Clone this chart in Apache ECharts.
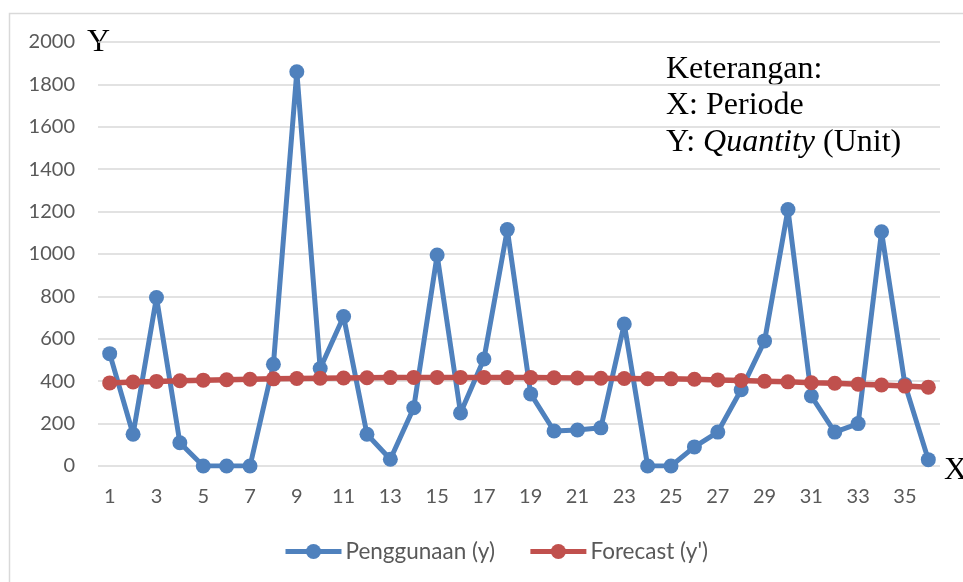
<!DOCTYPE html>
<html>
<head>
<meta charset="utf-8">
<style>
  html, body { margin: 0; padding: 0; background: #ffffff; }
  #chart { width: 963px; height: 582px; }
</style>
<script src="https://cdn.jsdelivr.net/npm/echarts@6/dist/echarts.min.js"></script>
</head>
<body>
<div id="chart"></div>
<script>
// Periods 1..36
const periods = Array.from({ length: 36 }, (_, i) => String(i + 1));

// Actual usage per period (Unit)
const penggunaan = [
  530, 150, 795, 110, 0, 0, 0, 480, 1860, 460,
  705, 150, 32, 275, 995, 250, 505, 1115, 340, 165,
  170, 180, 670, 0, 0, 90, 160, 360, 590, 1210,
  330, 160, 200, 1105, 385, 30
];

// Forecast values per period (Unit)
const forecast = [
  392, 396, 399, 402, 405, 407, 409, 411, 413, 414,
  415, 416, 417, 418, 418, 418, 418, 417, 417, 416,
  415, 414, 413, 412, 411, 409, 406, 403, 400, 397,
  393, 390, 386, 382, 377, 372
];

const seriesNames = ['Penggunaan (y)', "Forecast (y')"];
const blue = '#4F81BD';
const red = '#C0504D';
const labelFont = 'Lato, "Open Sans", sans-serif';
const serifFont = '"Liberation Serif", "Times New Roman", serif';

const chart = echarts.init(document.getElementById('chart'), null, { renderer: 'canvas' });

chart.setOption({
  animation: false,
  backgroundColor: '#ffffff',
  grid: { left: 98, right: 23, top: 42, bottom: 116 },
  legend: {
    data: seriesNames,
    bottom: 14,
    left: 278,
    itemWidth: 56,
    itemHeight: 19,
    itemGap: 33,
    lineStyle: { width: 5 },
    textStyle: { fontFamily: labelFont, fontSize: 22.5, color: '#595959', padding: [0, 0, 0, -1] }
  },
  xAxis: {
    type: 'category',
    data: periods,
    boundaryGap: true,
    axisLine: { show: false },
    axisTick: { show: false },
    axisLabel: {
      interval: 1,
      margin: 21,
      fontFamily: labelFont,
      fontSize: 20,
      color: '#595959'
    },
    splitLine: { show: false }
  },
  yAxis: {
    type: 'value',
    min: 0,
    max: 2000,
    interval: 200,
    axisLine: { show: false },
    axisTick: { show: false },
    axisLabel: {
      margin: 23,
      fontFamily: labelFont,
      fontSize: 20,
      color: '#595959',
      formatter: (v) => String(v)
    },
    splitLine: { lineStyle: { color: '#d9d9d9', width: 1.5 } }
  },
  series: [
    {
      name: seriesNames[0],
      type: 'line',
      data: penggunaan,
      symbol: 'circle',
      symbolSize: 15,
      itemStyle: { color: blue },
      lineStyle: { color: blue, width: 5 },
      emphasis: { disabled: true },
      z: 2
    },
    {
      name: seriesNames[1],
      type: 'line',
      data: forecast,
      symbol: 'circle',
      symbolSize: 15,
      itemStyle: { color: red },
      lineStyle: { color: red, width: 5.5 },
      emphasis: { disabled: true },
      z: 3
    }
  ],
  graphic: [
    {
      type: 'rect',
      silent: true,
      z: -10,
      shape: { x: 9.5, y: 13.5, width: 1000, height: 620 },
      style: { fill: 'none', stroke: '#d9d9d9', lineWidth: 1.5 }
    },
    {
      type: 'text',
      left: 87,
      top: 27,
      style: { text: 'Y', font: '32px ' + serifFont, fill: '#000000' }
    },
    {
      type: 'text',
      left: 944,
      top: 455,
      style: { text: 'X', font: '32px ' + serifFont, fill: '#000000' }
    },
    {
      type: 'text',
      left: 666,
      top: 51,
      style: {
        text: 'Keterangan:\nX: Periode\n{n|Y: }{i|Quantity}{n| (Unit)}',
        font: '32px ' + serifFont,
        fill: '#000000',
        lineHeight: 36.5,
        rich: {
          n: { font: '32px ' + serifFont, fill: '#000000', lineHeight: 36.5 },
          i: { font: 'italic 32px ' + serifFont, fill: '#000000', lineHeight: 36.5 }
        }
      }
    }
  ]
});
</script>
</body>
</html>
